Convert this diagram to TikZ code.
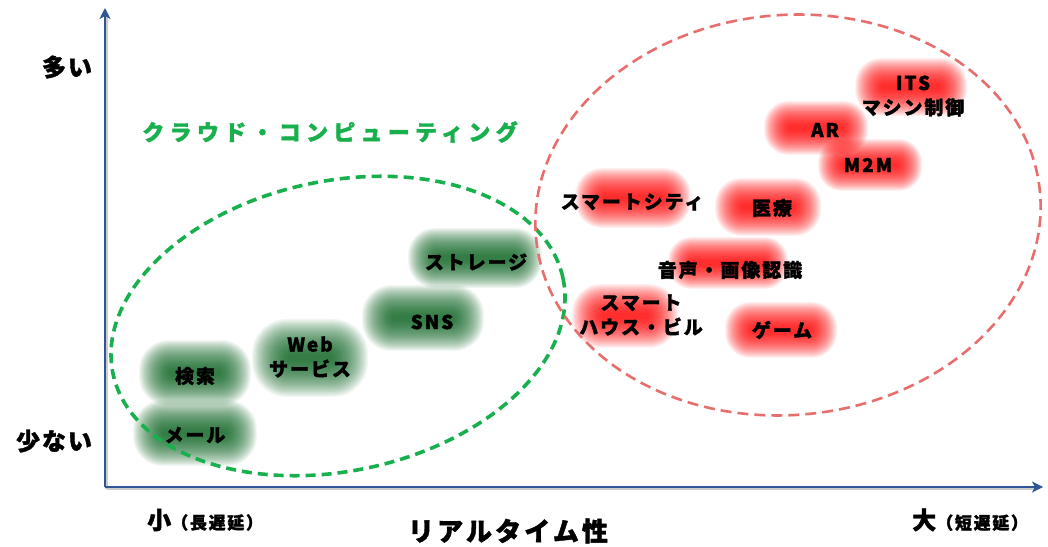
\documentclass[tikz,border=0pt]{standalone}
\usepackage{fontspec}
\setmainfont{Noto Sans CJK JP}
\usetikzlibrary{arrows.meta}
\definecolor{axisblue}{RGB}{47,85,151}
\definecolor{cgreen}{RGB}{24,176,76}
\definecolor{glowgreen}{RGB}{10,100,30}
\definecolor{glowred}{RGB}{255,0,0}
\definecolor{cred}{RGB}{232,110,110}
\newcommand\glowbox[5]{%
  \foreach \k in {0,...,29}{%
    \pgfmathsetmacro\st{#5/64}%
    \pgfmathsetmacro\rr{max(1,0.45*(#5-2*\k*\st))}%
    \fill[#1,opacity=0.052,rounded corners=\rr pt]
      ({#2-#4/2+\k*\st},{#3-#5/2+\k*\st}) rectangle ({#2+#4/2-\k*\st},{#3+#5/2-\k*\st});
  }%
}
\tikzset{
  lbl/.style={font=\bfseries\fontsize{19}{24.5}\selectfont\addfontfeature{LetterSpace=10,FakeBold=1.5}, align=center, inner sep=0pt, text=black},
  big/.style={font=\bfseries\fontsize{24}{28}\selectfont\addfontfeature{LetterSpace=8,FakeBold=1.5}, inner sep=0pt, text=black},
  axisline/.style={draw=axisblue, line width=2.6pt, -{Stealth[length=11pt,width=11pt,inset=3pt]}},
  greenell/.style={draw=cgreen, line width=3.6pt, dash pattern=on 10pt off 6pt},
  redell/.style={draw=cred, line width=2.6pt, dash pattern=on 11pt off 6pt},
}
\begin{document}
\begin{tikzpicture}[x=1pt,y=1pt]
\useasboundingbox (0,0) rectangle (1048,546);
\fill[white] (0,0) rectangle (1048,546);
% glows (green)
\glowbox{glowgreen}{195}{173}{112}{66}
\glowbox{glowgreen}{195}{113}{124}{66}
\glowbox{glowgreen}{310}{188}{116}{78}
\glowbox{glowgreen}{423}{228}{122}{66}
\glowbox{glowgreen}{475}{288}{134}{60}
% glows (red)
\glowbox{glowred}{911}{459}{112}{58}
\glowbox{glowred}{816}{418}{104}{54}
\glowbox{glowred}{870}{381}{104}{52}
\glowbox{glowred}{633}{348}{116}{60}
\glowbox{glowred}{768}{339}{106}{58}
\glowbox{glowred}{728}{283}{120}{52}
\glowbox{glowred}{625}{230}{106}{64}
\glowbox{glowred}{781}{216}{112}{56}
% axes
\coordinate (O) at (105,59);
\coordinate (Ytop) at (105,538);
\coordinate (Xend) at (1043,59);
\draw[gray!40, line width=2.6pt] (106.5,57.5) -- (106.5,530);
\draw[gray!40, line width=2.6pt] (106.5,57.5) -- (1035,57.5);
\draw[axisline] (O) -- (Ytop);
\draw[axisline] (O) -- (Xend);
% ellipses
\draw[greenell, rotate around={12:(338,220)}] (338,220) ellipse [x radius=230, y radius=145];
\draw[redell, rotate around={5:(788,331)}] (788,331) ellipse [x radius=253, y radius=200];
% axis labels
\node[big] (many) at (67,479) {多い};
\node[big] (few) at (54,105) {少ない};
\node[big, anchor=west] (small) at (147,26) {小{\fontsize{17}{20}\selectfont\addfontfeature{LetterSpace=10}（長遅延）}};
\node[big, font=\bfseries\fontsize{26}{30}\selectfont\addfontfeature{LetterSpace=12,FakeBold=1.5}] (rt) at (508,15) {リアルタイム性};
\node[big, anchor=west] (large) at (912,26) {大{\fontsize{17}{20}\selectfont\addfontfeature{LetterSpace=10}（短遅延）}};
% cloud title
\node[font=\bfseries\fontsize{22}{26}\selectfont\addfontfeature{LetterSpace=24,FakeBold=1.5}, text=cgreen, inner sep=0pt] (cloud) at (330,414) {クラウド・コンピューティング};
% green labels
\node[lbl] (search) at (195,170) {検索};
\node[lbl] (mail) at (195,111) {メール};
\node[lbl] (web) at (310,189) {Web\\サービス};
\node[lbl] (sns) at (432,224) {SNS};
\node[lbl] (storage) at (476,284) {ストレージ};
% red labels
\node[lbl] (its) at (913,450) {ITS\\マシン制御};
\node[lbl] (ar) at (825,416) {AR};
\node[lbl] (m2m) at (868,381) {M2M};
\node[lbl] (city) at (632,344) {スマートシティ};
\node[lbl] (med) at (772,338) {医療};
\node[lbl] (voice) at (730,276) {音声・画像認識};
\node[lbl] (house) at (641,231) {スマート\\ハウス・ビル};
\node[lbl] (game) at (782,216) {ゲーム};
\end{tikzpicture}
\end{document}
